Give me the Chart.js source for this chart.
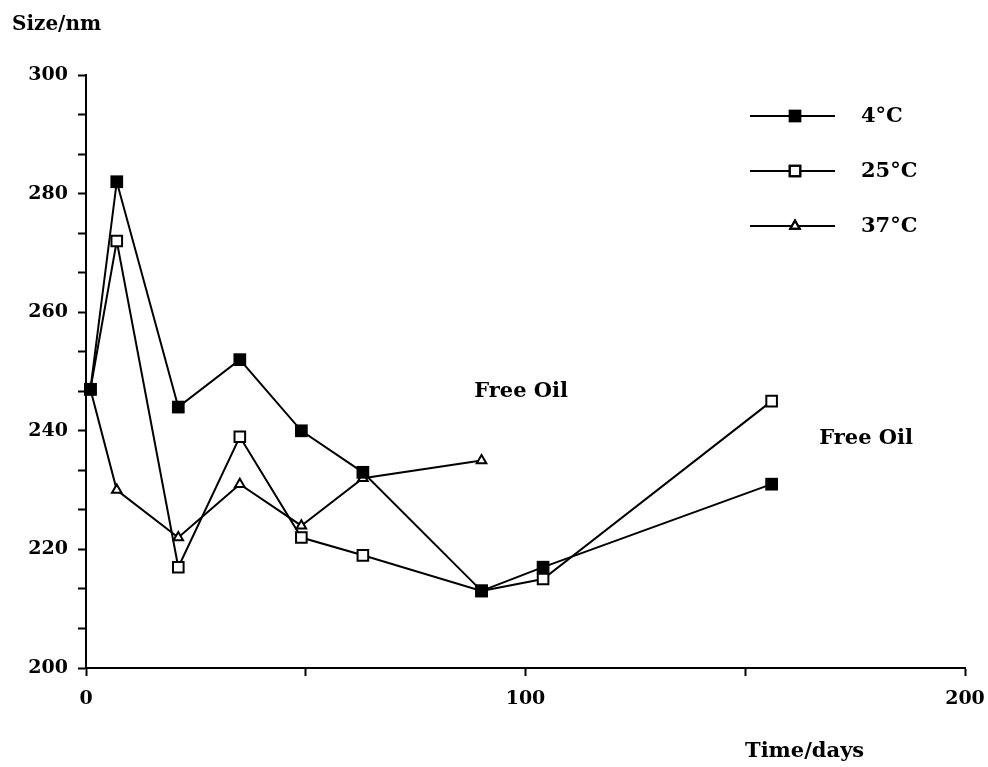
<!DOCTYPE html>
<html>
<head>
<meta charset="utf-8">
<script src="https://cdn.jsdelivr.net/npm/chart.js@4/dist/chart.umd.min.js"></script>
<style>
  html, body { margin: 0; padding: 0; background: #fff; }
  #wrap { width: 988px; height: 767px; position: relative; }
</style>
</head>
<body>
<div id="wrap"><canvas id="c" width="988" height="767"></canvas></div>
<script>
// Storage time (days) and particle size (nm) at each temperature
const days = [1, 7, 21, 35, 49, 63, 90, 104, 156];
const size4C = [247, 282, 244, 252, 240, 233, 213, 217, 231];
const size25C = [247, 272, 217, 239, 222, 219, 213, 215, 245];
const days37C = [1, 7, 21, 35, 49, 63, 90];
const size37C = [247, 230, 222, 231, 224, 232, 235];

const seriesNames = ['4\u00B0C', '25\u00B0C', '37\u00B0C'];
const xTickLabels = [0, 100, 200];
const yTickLabels = [200, 220, 240, 260, 280, 300];

// "Free Oil" notes placed in data coordinates (day, nm)
const notes = [
  { text: 'Free Oil', day: 99, nm: 246.6 },
  { text: 'Free Oil', day: 177.5, nm: 238.7 }
];

const FONT = '"DejaVu Serif", "Liberation Serif", serif';
const pts = (xs, ys) => xs.map((x, i) => ({ x, y: ys[i] }));

const datasets = [
  { label: seriesNames[0], data: pts(days, size4C), pointStyle: 'rect', pointRadius: 9,
    backgroundColor: '#000', pointBackgroundColor: '#000', pointBorderWidth: 0 },
  { label: seriesNames[1], data: pts(days, size25C), pointStyle: 'rect', pointRadius: 7.5,
    backgroundColor: '#fff', pointBackgroundColor: '#fff', pointBorderWidth: 2 },
  { label: seriesNames[2], data: pts(days37C, size37C), pointStyle: 'triangle', pointRadius: 5.5,
    backgroundColor: '#fff', pointBackgroundColor: '#fff', pointBorderWidth: 2 }
].map(d => Object.assign({
  borderColor: '#000', pointBorderColor: '#000', borderWidth: 2,
  showLine: true, tension: 0, fill: false, clip: false
}, d));

// Legend rows, axis headings and notes drawn on the canvas
const decorations = {
  id: 'decorations',
  afterDraw(chart) {
    const ctx = chart.ctx;
    const xs = chart.scales.x, ys = chart.scales.y;
    ctx.save();
    ctx.fillStyle = '#000';
    ctx.textBaseline = 'middle';

    ctx.textAlign = 'left';
    ctx.font = 'bold 20px ' + FONT;
    ctx.fillText('Size/nm', 12, 25);
    ctx.font = 'bold 21px ' + FONT;
    ctx.fillText('Time/days', 745, 752);

    ctx.textAlign = 'center';
    notes.forEach(n => ctx.fillText(n.text, xs.getPixelForValue(n.day), ys.getPixelForValue(n.nm)));

    // legend
    chart.data.datasets.forEach((ds, i) => {
      const y = 116 + i * 55;
      ctx.strokeStyle = '#000';
      ctx.lineWidth = 2;
      ctx.beginPath();
      ctx.moveTo(750, y);
      ctx.lineTo(835, y);
      ctx.stroke();
      ctx.fillStyle = ds.pointBackgroundColor;
      ctx.lineWidth = ds.pointBorderWidth;
      Chart.helpers.drawPoint(ctx, {
        pointStyle: ds.pointStyle, radius: ds.pointRadius, borderWidth: ds.pointBorderWidth, rotation: 0
      }, 795, y);
      if (ds.pointBorderWidth) ctx.stroke();
      ctx.fillStyle = '#000';
      ctx.textAlign = 'left';
      ctx.fillText(ds.label, 861, y + 1);
    });
    ctx.restore();
  }
};

new Chart(document.getElementById('c'), {
  type: 'scatter',
  data: { datasets },
  plugins: [decorations],
  options: {
    responsive: false,
    animation: false,
    events: [],
    layout: { padding: { left: 0, top: 75, right: 23, bottom: 0 } },
    plugins: { legend: { display: false }, tooltip: { enabled: false } },
    scales: {
      x: {
        type: 'linear', min: 0, max: 200,
        border: { display: true, color: '#000', width: 2 },
        grid: { display: true, drawOnChartArea: false, drawTicks: true, tickLength: 8, tickColor: '#000', tickWidth: 2 },
        ticks: {
          stepSize: 50, autoSkip: false, maxRotation: 0, padding: 12, color: '#000',
          font: { family: FONT, size: 19, weight: 'bold' },
          callback: v => xTickLabels.includes(Math.round(v)) ? String(Math.round(v)) : ''
        },
        afterFit: s => { s.height = 99; s.paddingLeft = 0; s.paddingRight = 0; }
      },
      y: {
        type: 'linear', min: 200, max: 300,
        border: { display: true, color: '#000', width: 2 },
        grid: { display: true, drawOnChartArea: false, drawTicks: true, tickLength: 8, tickColor: '#000', tickWidth: 2 },
        ticks: {
          stepSize: 20 / 3, maxTicksLimit: 100, autoSkip: false, padding: 10, color: '#000',
          font: { family: FONT, size: 19, weight: 'bold' },
          callback: v => {
            const r = Math.round(v);
            return (Math.abs(v - r) < 1e-6 && yTickLabels.includes(r)) ? String(r) : '';
          }
        },
        afterFit: s => { s.width = 86; s.paddingTop = 0; s.paddingBottom = 0; }
      }
    }
  }
});
</script>
</body>
</html>
